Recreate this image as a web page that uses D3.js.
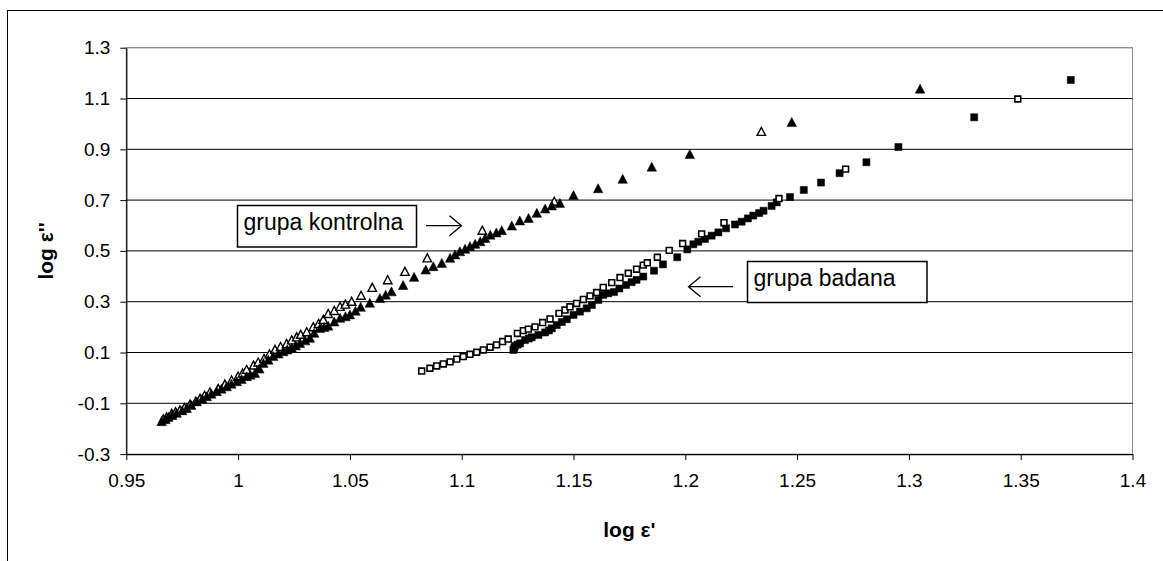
<!DOCTYPE html>
<html>
<head>
<meta charset="utf-8">
<script src="https://cdn.jsdelivr.net/npm/d3@7"></script>
<style>
  html, body { margin: 0; padding: 0; background: #fff; }
  svg { display: block; font-family: Arial, "Liberation Sans", sans-serif; }
</style>
</head>
<body>
<svg id="chart" width="1163" height="561"></svg>
<script>
// Axis ticks and labels
const xTicks = [0.95, 1, 1.05, 1.1, 1.15, 1.2, 1.25, 1.3, 1.35, 1.4];
const xTickLabels = ["0.95", "1", "1.05", "1.1", "1.15", "1.2", "1.25", "1.3", "1.35", "1.4"];
const yTicks = [-0.3, -0.1, 0.1, 0.3, 0.5, 0.7, 0.9, 1.1, 1.3];
const yTickLabels = ["-0.3", "-0.1", "0.1", "0.3", "0.5", "0.7", "0.9", "1.1", "1.3"];

// grupa kontrolna, open triangles: [log e', log e'']
const kontrolnaOpen = [
  [0.9665,-0.163],[0.968,-0.155],[0.9703,-0.141],[0.972,-0.135],[0.974,-0.128],[0.976,-0.118],
  [0.9785,-0.105],[0.981,-0.094],[0.983,-0.082],[0.985,-0.070],[0.9874,-0.057],[0.9911,-0.043],
  [0.9941,-0.026],[0.9971,-0.010],[1.000,0.006],[1.002,0.018],[1.0038,0.032],[1.0069,0.049],
  [1.009,0.061],[1.0116,0.075],[1.014,0.093],[1.0165,0.111],[1.019,0.122],[1.0217,0.134],
  [1.024,0.148],[1.0262,0.160],[1.028,0.170],[1.0307,0.180],[1.0336,0.200],[1.036,0.213],
  [1.0381,0.229],[1.0403,0.252],[1.043,0.264],[1.0456,0.280],[1.048,0.289],[1.0508,0.300],
  [1.055,0.324],[1.060,0.355],[1.0669,0.385],[1.0746,0.418],[1.0846,0.471],[1.1092,0.580],
  [1.1414,0.694],[1.234,0.969]
];

// grupa kontrolna, filled triangles
const kontrolnaFilled = [
  [0.9658,-0.172],[0.9675,-0.164],[0.9688,-0.155],[0.9705,-0.148],[0.9725,-0.139],[0.975,-0.129],
  [0.977,-0.120],[0.979,-0.108],[0.9815,-0.094],[0.984,-0.084],[0.986,-0.074],[0.988,-0.064],
  [0.9904,-0.054],[0.9925,-0.044],[0.9949,-0.035],[0.997,-0.025],[0.9994,-0.015],[1.0015,-0.006],
  [1.0038,0.005],[1.0055,0.011],[1.0075,0.018],[1.0095,0.035],[1.0113,0.057],[1.0135,0.070],
  [1.0157,0.084],[1.018,0.094],[1.0202,0.103],[1.022,0.110],[1.024,0.117],[1.0258,0.126],
  [1.0276,0.136],[1.030,0.146],[1.0321,0.156],[1.034,0.176],[1.0366,0.195],[1.0385,0.199],
  [1.0403,0.204],[1.043,0.220],[1.0456,0.235],[1.048,0.241],[1.050,0.248],[1.0525,0.263],
  [1.0548,0.278],[1.0589,0.294],[1.0634,0.313],[1.066,0.326],[1.0686,0.339],[1.0738,0.364],
  [1.0787,0.396],[1.0839,0.425],[1.0873,0.438],[1.0911,0.451],[1.0948,0.471],[1.097,0.484],
  [1.0992,0.497],[1.1015,0.507],[1.1037,0.517],[1.106,0.526],[1.1083,0.536],[1.1105,0.549],
  [1.1128,0.562],[1.1155,0.571],[1.1179,0.580],[1.1224,0.598],[1.126,0.618],[1.1299,0.628],
  [1.1336,0.648],[1.1373,0.665],[1.1403,0.677],[1.1439,0.687],[1.150,0.718],[1.161,0.745],
  [1.172,0.782],[1.185,0.830],[1.202,0.880],[1.2476,1.006],[1.305,1.137]
];

// grupa badana, open squares
const badanaOpen = [
  [1.0821,0.027],[1.0858,0.038],[1.0888,0.047],[1.0918,0.055],[1.0948,0.063],[1.0978,0.074],
  [1.1007,0.084],[1.1037,0.093],[1.1067,0.101],[1.1097,0.110],[1.1127,0.121],[1.1156,0.130],
  [1.1183,0.143],[1.1208,0.153],[1.1249,0.175],[1.1276,0.186],[1.1298,0.192],[1.1328,0.201],
  [1.1362,0.218],[1.1395,0.232],[1.1435,0.254],[1.1462,0.267],[1.1484,0.280],[1.1514,0.293],
  [1.1544,0.309],[1.1574,0.323],[1.1604,0.336],[1.1633,0.356],[1.1671,0.375],[1.1708,0.395],
  [1.1745,0.412],[1.1782,0.428],[1.1812,0.444],[1.183,0.453],[1.1875,0.475],[1.1928,0.502],
  [1.1988,0.529],[1.2073,0.567],[1.2173,0.611],[1.2419,0.706],[1.2717,0.822],[1.3487,1.098]
];

// grupa badana, filled squares
const badanaFilled = [
  [1.1231,0.110],[1.1235,0.118],[1.1238,0.126],[1.1250,0.131],[1.1261,0.136],[1.1283,0.149],
  [1.1300,0.155],[1.1313,0.160],[1.1343,0.169],[1.1373,0.179],[1.1390,0.187],[1.1403,0.195],
  [1.1425,0.208],[1.1448,0.220],[1.147,0.231],[1.150,0.248],[1.1529,0.261],[1.1559,0.274],
  [1.1582,0.287],[1.1611,0.307],[1.1633,0.327],[1.1655,0.333],[1.1681,0.338],[1.1705,0.352],
  [1.1735,0.366],[1.1760,0.377],[1.1782,0.386],[1.1812,0.399],[1.186,0.422],[1.190,0.447],
  [1.1964,0.475],[1.2009,0.506],[1.2036,0.526],[1.2058,0.536],[1.2088,0.547],[1.2118,0.560],
  [1.2148,0.573],[1.2182,0.589],[1.2222,0.604],[1.2252,0.615],[1.2280,0.628],[1.2304,0.639],
  [1.2330,0.649],[1.235,0.658],[1.2386,0.677],[1.2409,0.691],[1.2468,0.712],[1.253,0.740],
  [1.2607,0.769],[1.269,0.806],[1.281,0.849],[1.2953,0.909],[1.3292,1.026],[1.3724,1.173]
];

const xTitle = "log \u03b5'";
const yTitle = "log \u03b5''";
const labelKontrolna = "grupa kontrolna";
const labelBadana = "grupa badana";

const svg = d3.select("#chart");

// outer chart frame (its right and bottom edges fall outside the canvas)
svg.append("rect")
  .attr("x", 7.5).attr("y", 10.5)
  .attr("width", 1170).attr("height", 570)
  .attr("fill", "#fff").attr("stroke", "#000").attr("stroke-width", 1);

const plot = { left: 126.3, right: 1132.5, top: 47.7, bottom: 454.1 };

const x = d3.scaleLinear().domain([0.95, 1.4]).range([plot.left, plot.right]);
const y = d3.scaleLinear().domain([-0.3, 1.3]).range([plot.bottom, plot.top]);

// plot area
svg.append("rect")
  .attr("x", plot.left).attr("y", plot.top)
  .attr("width", plot.right - plot.left).attr("height", plot.bottom - plot.top)
  .attr("fill", "#fff").attr("stroke", "#8c8c8c").attr("stroke-width", 1);

// horizontal gridlines
svg.append("g")
  .selectAll("line")
  .data(yTicks.slice(1))
  .join("line")
  .attr("x1", plot.left).attr("x2", plot.right)
  .attr("y1", d => y(d)).attr("y2", d => y(d))
  .attr("stroke", d => d === 1.3 ? "#8c8c8c" : "#000")
  .attr("stroke-width", 1);

// axes
const xAxis = d3.axisBottom(x)
  .tickValues(xTicks)
  .tickFormat((d, i) => xTickLabels[i])
  .tickSizeInner(6).tickSizeOuter(0).tickPadding(13);
const yAxis = d3.axisLeft(y)
  .tickValues(yTicks)
  .tickFormat((d, i) => yTickLabels[i])
  .tickSizeInner(6).tickSizeOuter(0).tickPadding(10);

const gx = svg.append("g").attr("transform", `translate(0,${plot.bottom})`).call(xAxis);
const gy = svg.append("g").attr("transform", `translate(${plot.left},0)`).call(yAxis);
[gx, gy].forEach(g => {
  g.select(".domain").attr("stroke", "#000").attr("stroke-width", 1.2);
  g.selectAll(".tick line").attr("stroke", "#000").attr("stroke-width", 1);
  g.selectAll(".tick text")
    .attr("fill", "#000")
    .style("font-family", "Arial, 'Liberation Sans', sans-serif")
    .style("font-size", "19px");
});

// axis titles
svg.append("text")
  .attr("x", (plot.left + plot.right) / 2).attr("y", 537)
  .attr("text-anchor", "middle")
  .style("font-size", "21px").style("font-weight", "bold")
  .text(xTitle);
svg.append("text")
  .attr("transform", `translate(53,${(plot.top + plot.bottom) / 2}) rotate(-90)`)
  .attr("text-anchor", "middle")
  .style("font-size", "21px").style("font-weight", "bold")
  .text(yTitle);

// marker shapes: triangles a little taller than equilateral, squares
const triangleShape = (w, h) => ({
  draw(ctx) {
    ctx.moveTo(0, -h * 0.55);
    ctx.lineTo(w / 2, h * 0.45);
    ctx.lineTo(-w / 2, h * 0.45);
    ctx.closePath();
  }
});
const triOpen = d3.symbol().type(triangleShape(8.5, 8));
const triFill = d3.symbol().type(triangleShape(9.5, 9));
const sqOpen = d3.symbol().type(d3.symbolSquare).size(34);
const sqFill = d3.symbol().type(d3.symbolSquare).size(50);

function drawSeries(data, gen, filled, strokeW) {
  svg.append("g")
    .selectAll("path")
    .data(data)
    .join("path")
    .attr("transform", d => `translate(${x(d[0])},${y(d[1])})`)
    .attr("d", gen)
    .attr("fill", filled ? "#000" : "#fff")
    .attr("stroke", "#000")
    .attr("stroke-width", strokeW)
    .attr("stroke-linejoin", "miter");
}

drawSeries(kontrolnaOpen, triOpen, false, 1.4);
drawSeries(kontrolnaFilled, triFill, true, 0.5);
drawSeries(badanaFilled, sqFill, true, 0.5);
drawSeries(badanaOpen, sqOpen, false, 1.6);

// annotation boxes with arrows
function annotate(bx, by, bw, bh, label, arrow) {
  svg.append("rect")
    .attr("x", bx).attr("y", by).attr("width", bw).attr("height", bh)
    .attr("fill", "#fff").attr("stroke", "#000").attr("stroke-width", 1.5);
  svg.append("text")
    .attr("x", bx + 6).attr("y", by + 24)
    .style("font-size", "23px")
    .text(label);
  const [x1, x2, ay] = arrow;
  const dir = Math.sign(x2 - x1);
  svg.append("path")
    .attr("d", `M${x1},${ay}H${x2}M${x2 - dir * 12},${ay - 10}L${x2},${ay}L${x2 - dir * 12},${ay + 10}`)
    .attr("fill", "none").attr("stroke", "#000").attr("stroke-width", 1.3);
}

annotate(237.5, 205.5, 179, 41.5, labelKontrolna, [426, 461.5, 225.7]);
annotate(747.5, 261.5, 179.5, 41, labelBadana, [733, 688.5, 286.7]);
</script>
</body>
</html>
